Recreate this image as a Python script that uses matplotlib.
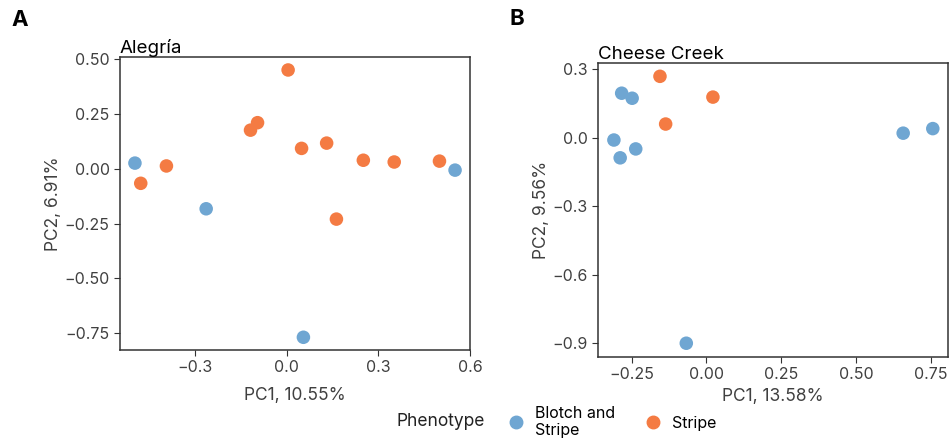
"""PCA of two populations (Alegría, Cheese Creek) coloured by phenotype."""
import matplotlib
matplotlib.use("Agg")
import matplotlib.pyplot as plt
from matplotlib.lines import Line2D

plt.rcParams["font.family"] = ["Inter", "DejaVu Sans"]

# panel A: Alegría
a_blotch_x = [-0.496, -0.263, 0.055, 0.551]
a_blotch_y = [0.025, -0.183, -0.768, -0.007]
a_stripe_x = [-0.477, -0.393, -0.118, -0.095, 0.005, 0.049, 0.131, 0.163, 0.251, 0.352, 0.500]
a_stripe_y = [-0.067, 0.012, 0.175, 0.209, 0.449, 0.092, 0.116, -0.230, 0.038, 0.030, 0.034]

# panel B: Cheese Creek
b_blotch_x = [-0.283, -0.248, -0.309, -0.288, -0.236, -0.067, 0.658, 0.757]
b_blotch_y = [0.195, 0.173, -0.010, -0.088, -0.049, -0.900, 0.020, 0.040]
b_stripe_x = [-0.155, -0.136, 0.022]
b_stripe_y = [0.269, 0.060, 0.178]

BLUE = "#6fa6d2"
ORANGE = "#f47b43"
DARK = "#333333"


def style(ax):
    for s in ax.spines.values():
        s.set_color(DARK)
        s.set_linewidth(1.1)
    ax.tick_params(labelsize=11.5, colors=DARK, labelcolor="#404040", length=4)


fig = plt.figure(figsize=(9.49, 4.43), dpi=100)

ax1 = fig.add_axes([0.1264, 0.2099, 0.3689, 0.6614])
ax1.scatter(a_blotch_x, a_blotch_y, s=95, color=BLUE, edgecolor="none", zorder=3)
ax1.scatter(a_stripe_x, a_stripe_y, s=95, color=ORANGE, edgecolor="none", zorder=3)
ax1.set_xlim(-0.545, 0.6)
ax1.set_ylim(-0.826, 0.508)
ax1.set_xticks([-0.3, 0.0, 0.3, 0.6])
ax1.set_xticklabels(["\u22120.3", "0.0", "0.3", "0.6"])
ax1.set_yticks([0.5, 0.25, 0.0, -0.25, -0.5, -0.75])
ax1.set_yticklabels(["0.50", "0.25", "0.00", "\u22120.25", "\u22120.50", "\u22120.75"])
ax1.set_xlabel("PC1, 10.55%", fontsize=12.5, color="#404040", labelpad=8)
ax1.set_ylabel("PC2, 6.91%", fontsize=12.5, color="#404040", labelpad=2)
ax1.set_title("Alegría", loc="left", fontsize=13.5, pad=2)
style(ax1)

ax2 = fig.add_axes([0.6305, 0.1948, 0.3685, 0.6623])
ax2.scatter(b_blotch_x, b_blotch_y, s=95, color=BLUE, edgecolor="none", zorder=3)
ax2.scatter(b_stripe_x, b_stripe_y, s=95, color=ORANGE, edgecolor="none", zorder=3)
ax2.set_xlim(-0.361, 0.808)
ax2.set_ylim(-0.959, 0.326)
ax2.set_xticks([-0.25, 0.0, 0.25, 0.5, 0.75])
ax2.set_xticklabels(["\u22120.25", "0.00", "0.25", "0.50", "0.75"])
ax2.set_yticks([0.3, 0.0, -0.3, -0.6, -0.9])
ax2.set_yticklabels(["0.3", "0.0", "\u22120.3", "\u22120.6", "\u22120.9"])
ax2.set_xlabel("PC1, 13.58%", fontsize=12.5, color="#404040", labelpad=4)
ax2.set_ylabel("PC2, 9.56%", fontsize=12.5, color="#404040", labelpad=2)
ax2.set_title("Cheese Creek", loc="left", fontsize=13.5, pad=2)
style(ax2)

fig.text(0.012, 0.955, "A", fontsize=16, fontweight="bold", va="center")
fig.text(0.537, 0.958, "B", fontsize=16, fontweight="bold", va="center")

# legend: title on the left, entries to the right
fig.text(397 / 949, 0.048, "Phenotype", fontsize=12.5, color="#222222", va="center")
handles = [
    Line2D([], [], marker="o", ls="none", color=BLUE, markersize=9),
    Line2D([], [], marker="o", ls="none", color=ORANGE, markersize=9),
]
fig.legend(handles, ["Blotch and\nStripe", "Stripe"], loc="center left",
           bbox_to_anchor=(506 / 949, 0.048), ncol=2, frameon=False,
           fontsize=11.5, handletextpad=0.6, columnspacing=1.8,
           handlelength=1.2, borderpad=0, borderaxespad=0)

fig.savefig("out.png", dpi=100)
